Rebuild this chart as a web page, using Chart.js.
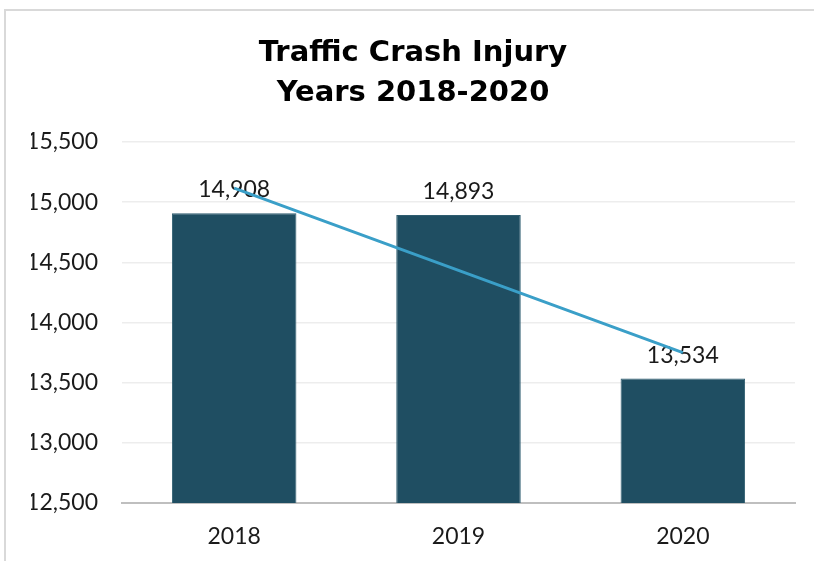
<!DOCTYPE html>
<html>
<head>
<meta charset="utf-8">
<script src="https://cdn.jsdelivr.net/npm/chart.js@4/dist/chart.umd.min.js"></script>
<style>
  html, body { margin: 0; padding: 0; background: #fff; overflow: hidden; }
  #wrap { position: relative; width: 814px; height: 561px; }
  #frame { position: absolute; left: 4px; top: 9px; width: 900px; height: 700px;
           border-top: 2px solid #d9d9d9; border-left: 2px solid #d9d9d9; }
  canvas { position: absolute; left: 0; top: 0; }
</style>
</head>
<body>
<div id="wrap">
  <canvas id="chart" width="814" height="561"></canvas>
  <div id="frame"></div>
</div>
<script>
'use strict'

const years = ['2018', '2019', '2020'];
const injuries = [14908, 14893, 13534];
const trendValues = [15117, 14433, 13750];
const titleLines = ['Traffic Crash Injury', 'Years 2018-2020'];

// value labels above bars, drawn right after the bars so the trend line passes over them
const barLabels = {
    id: 'barLabels',
    afterDatasetDraw(chart, args) {
        if (args.index !== 0) return;
        const ctx = chart.ctx;
        ctx.save();
        ctx.font = '23px Lato';
        ctx.fillStyle = '#1a1a1a';
        ctx.textAlign = 'center';
        ctx.textBaseline = 'alphabetic';
        args.meta.data.forEach((bar, i) => {
            ctx.fillText(injuries[i].toLocaleString('en-US'), bar.x, bar.y - 16);
        });
        ctx.restore();
    }
};

const ctx = document.getElementById('chart').getContext('2d');
const chart = new Chart(ctx, {
    type: 'bar',
    data: {
        labels: years,
        datasets: [
            {
                label: 'Injuries',
                data: injuries,
                backgroundColor: '#1f4e62',
                borderColor: '#2f5d70',
                borderWidth: 1,
                categoryPercentage: 1,
                barPercentage: 0.555,
                order: 1
            },
            {
                type: 'line',
                label: 'Trend',
                data: trendValues,
                borderColor: '#3a9fc8',
                borderWidth: 3,
                pointRadius: 0,
                fill: false,
                tension: 0,
                order: 0
            }
        ]
    },
    options: {
        responsive: false,
        animation: false,
        layout: { padding: { left: 31, right: 19, top: 0, bottom: 0 } },
        plugins: {
            legend: { display: false },
            tooltip: { enabled: false },
            title: {
                display: true,
                text: titleLines,
                color: '#000',
                font: { family: 'DejaVu Sans', size: 29, weight: 'bold', lineHeight: 1.38 },
                padding: { top: 33, bottom: 29 }
            }
        },
        scales: {
            x: {
                grid: { display: false },
                border: { display: true, color: '#bfbfbf', width: 2 },
                ticks: { color: '#1a1a1a', font: { family: 'Lato', size: 23 }, padding: 12 },
                afterFit(scale) { scale.height = 58; }
            },
            y: {
                min: 12500,
                max: 15500,
                grid: { color: '#ededed', lineWidth: 1.5, drawTicks: false },
                border: { display: false },
                ticks: {
                    stepSize: 500,
                    color: '#1a1a1a',
                    font: { family: 'Lato', size: 23 },
                    padding: 24,
                    callback: v => v.toLocaleString('en-US')
                },
                afterFit(scale) { scale.width = 91; }
            }
        }
    },
    plugins: [barLabels]
});
</script>
</body>
</html>
